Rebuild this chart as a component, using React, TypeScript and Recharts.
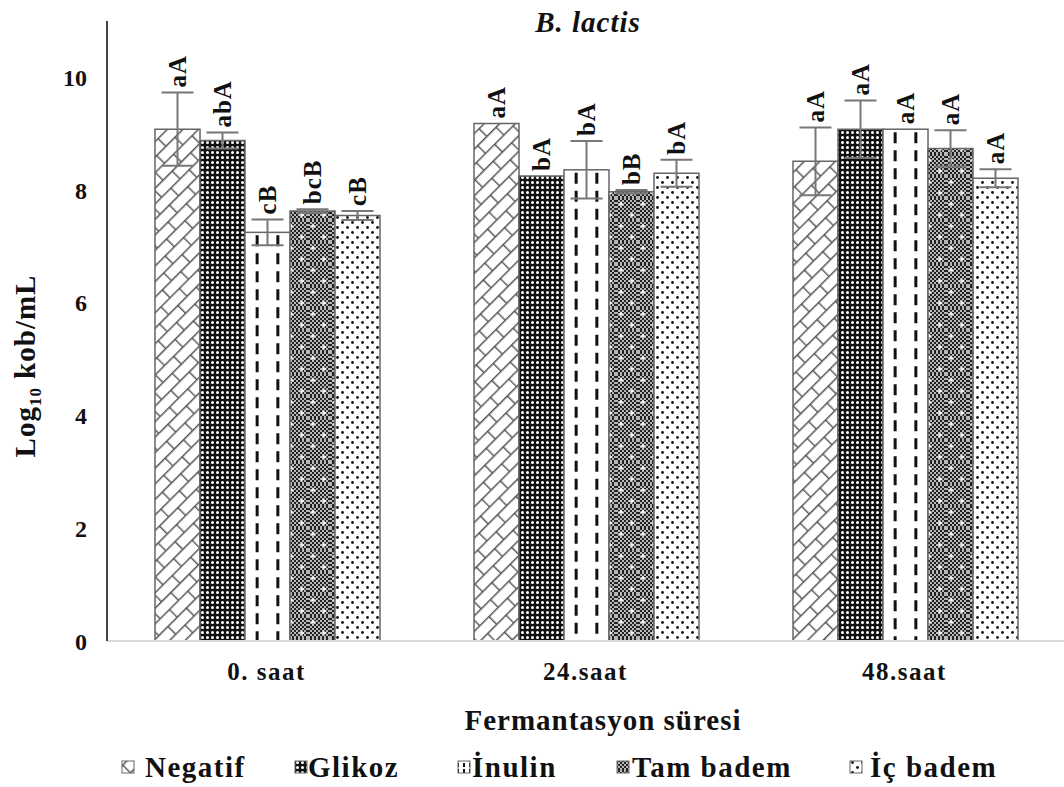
import { Bar, BarChart, ErrorBar, LabelList, XAxis, YAxis } from "recharts";

const categories = ["0. saat", "24.saat", "48.saat"];

const negatif = [9.08, 9.18, 8.51];
const negatifErr = [0.65, 0, 0.6];
const negatifLbl = ["aA", "aA", "aA"];

const glikoz = [8.88, 8.25, 9.08];
const glikozErr = [0.14, 0, 0.51];
const glikozLbl = ["abA", "bA", "aA"];

const inulin = [7.25, 8.36, 9.08];
const inulinErr = [0.23, 0.51, 0];
const inulinLbl = ["cB", "bA", "aA"];

const tamBadem = [7.63, 7.97, 8.74];
const tamBademErr = [0.03, 0.03, 0.32];
const tamBademLbl = ["bcB", "bB", "aA"];

const icBadem = [7.55, 8.3, 8.21];
const icBademErr = [0.08, 0.24, 0.16];
const icBademLbl = ["cB", "bA", "aA"];

const yTicks = [0, 2, 4, 6, 8, 10];

const SERIES = [
  { key: "neg", name: "Negatif", values: negatif, errs: negatifErr, labels: negatifLbl, fill: "url(#pNeg)" },
  { key: "gli", name: "Glikoz", values: glikoz, errs: glikozErr, labels: glikozLbl, fill: "url(#pGli)" },
  { key: "inu", name: "İnulin", values: inulin, errs: inulinErr, labels: inulinLbl, fill: "url(#pInuL)" },
  { key: "tam", name: "Tam badem", values: tamBadem, errs: tamBademErr, labels: tamBademLbl, fill: "url(#pTam)" },
  { key: "ic", name: "İç badem", values: icBadem, errs: icBademErr, labels: icBademLbl, fill: "url(#pIc)" },
];

const data = categories.map((c, i) => {
  const row: Record<string, number | string> = { cat: c };
  SERIES.forEach((s) => {
    row[s.key] = s.values[i];
    row[s.key + "Err"] = s.errs[i];
  });
  return row;
});

const FONT = "'Liberation Serif', 'Times New Roman', serif";
const EDGE = "#666";

function Patterns() {
  return (
    <svg width={0} height={0} style={{ position: "absolute" }}>
      <defs>
        <pattern id="pNeg" width={26} height={22} patternUnits="userSpaceOnUse" patternTransform="rotate(-45)">
          <rect width={26} height={22} fill="#fff" />
          <path d="M0 0.75H26M0 11.75H26M0.75 0V11M13.75 11V22" stroke="#555" strokeWidth={1.4} fill="none" />
        </pattern>
        <pattern id="pGli" width={5} height={5} patternUnits="userSpaceOnUse">
          <rect width={5} height={5} fill="#111" />
          <circle cx={2.5} cy={2.5} r={1.5} fill="#fff" />
        </pattern>
        <pattern id="pInuL" width={6} height={6} patternUnits="userSpaceOnUse">
          <rect width={6} height={6} fill="#fff" />
          <rect x={1} y={1} width={2} height={4} fill="#111" />
        </pattern>
        <pattern id="pChk" width={4} height={4} patternUnits="userSpaceOnUse">
          <rect width={4} height={4} fill="#222" />
          <circle cx={1} cy={1} r={0.9} fill="#fff" />
          <circle cx={3} cy={3} r={0.9} fill="#fff" />
        </pattern>
        <pattern id="pTam" width={22} height={22} patternUnits="userSpaceOnUse">
          <rect width={22} height={22} fill="url(#pChk)" />
          <path d="M5 3.5V8.5M2.5 6H7.5M16 14.5V19.5M13.5 17H18.5" stroke="#fff" strokeWidth={1.3} />
        </pattern>
        <pattern id="pIc" width={10} height={10} patternUnits="userSpaceOnUse">
          <rect width={10} height={10} fill="#fff" />
          <circle cx={2.5} cy={2.5} r={1.4} fill="#111" />
          <circle cx={7.5} cy={7.5} r={1.4} fill="#111" />
        </pattern>
      </defs>
    </svg>
  );
}

// İnulin bars: white with two dashed vertical strokes inside each bar
function InulinShape(props: any) {
  const x = Number(props.x);
  const y = Number(props.y);
  const width = Number(props.width);
  const height = Number(props.height);
  if (!(height > 0)) return null;
  return (
    <g>
      <rect x={x} y={y} width={width} height={height} fill="#fff" stroke={EDGE} strokeWidth={1.5} />
      {[0.27, 0.73].map((f) => (
        <line
          key={f}
          x1={x + width * f}
          x2={x + width * f}
          y1={y + 3}
          y2={y + height}
          stroke="#111"
          strokeWidth={3}
          strokeDasharray="11 7"
        />
      ))}
    </g>
  );
}

function makeLabel(values: number[], errs: number[], labels: string[]) {
  return (props: any) => {
    const { x, y, width, height, index } = props;
    const perUnit = Number(height) / values[index];
    const cx = Number(x) + Number(width) / 2;
    const top = Number(y) - errs[index] * perUnit - 5;
    return (
      <text
        x={cx}
        y={top}
        transform={`rotate(-90 ${cx} ${top})`}
        textAnchor="start"
        dominantBaseline="central"
        fontFamily={FONT}
        fontWeight="bold"
        fontSize={25}
        letterSpacing={1}
        fill="#111"
      >
        {labels[index]}
      </text>
    );
  };
}

const LEGEND_BOX_X = [122, 295, 458, 617, 850];
const LEGEND_TEXT_X = [145, 308, 472, 632, 870];

export default function App() {
  return (
    <div style={{ position: "absolute", left: 0, top: 0, width: 1064, height: 787, background: "#fff" }}>
      <Patterns />
      <BarChart
        width={1064}
        height={787}
        data={data}
        margin={{ top: 21, right: 0, bottom: 56, left: 0 }}
        barCategoryGap={48}
        barGap={0}
      >
        <XAxis
          dataKey="cat"
          height={90}
          tickLine={false}
          tickMargin={15}
          axisLine={{ stroke: "#d9d9d9", strokeWidth: 2 }}
          tick={{ fontFamily: FONT, fontWeight: "bold", fontSize: 25, fill: "#111", letterSpacing: 1.5 }}
        />
        <YAxis
          width={107}
          domain={[0, 11]}
          ticks={yTicks}
          tickLine={false}
          tickMargin={14}
          axisLine={{ stroke: "#444", strokeWidth: 2 }}
          tick={{ fontFamily: FONT, fontWeight: "bold", fontSize: 24, fill: "#111" }}
        />
        {SERIES.map((s) => (
          <Bar
            key={s.key}
            dataKey={s.key}
            name={s.name}
            fill={s.fill}
            stroke={EDGE}
            strokeWidth={1.5}
            shape={s.key === "inu" ? (p: any) => <InulinShape {...p} /> : undefined}
            isAnimationActive={false}
          >
            <ErrorBar dataKey={s.key + "Err"} width={16} stroke="#777" strokeWidth={2} />
            <LabelList dataKey={s.key} content={makeLabel(s.values, s.errs, s.labels)} />
          </Bar>
        ))}
      </BarChart>
      <svg
        width={1064}
        height={787}
        style={{ position: "absolute", left: 0, top: 0, pointerEvents: "none" }}
        fontFamily={FONT}
        fontWeight="bold"
      >
        <text x={588} y={32} textAnchor="middle" fontSize={29} fontStyle="italic" letterSpacing={1} fill="#111">
          B. lactis
        </text>
        <text
          x={35}
          y={366}
          transform="rotate(-90 35 366)"
          textAnchor="middle"
          fontSize={29}
          letterSpacing={1}
          fill="#111"
        >
          Log<tspan fontSize={17} dy={6}>10</tspan>
          <tspan dy={-6}> kob/mL</tspan>
        </text>
        <text x={603} y={730} textAnchor="middle" fontSize={29} letterSpacing={1} fill="#111">
          Fermantasyon süresi
        </text>
        {SERIES.map((s, i) => (
          <g key={s.key}>
            <rect x={LEGEND_BOX_X[i]} y={761} width={12} height={12} fill={s.fill} stroke={EDGE} strokeWidth={1} />
            <text x={LEGEND_TEXT_X[i]} y={777} fontSize={29} letterSpacing={1.5} fill="#111">
              {s.name}
            </text>
          </g>
        ))}
      </svg>
    </div>
  );
}
